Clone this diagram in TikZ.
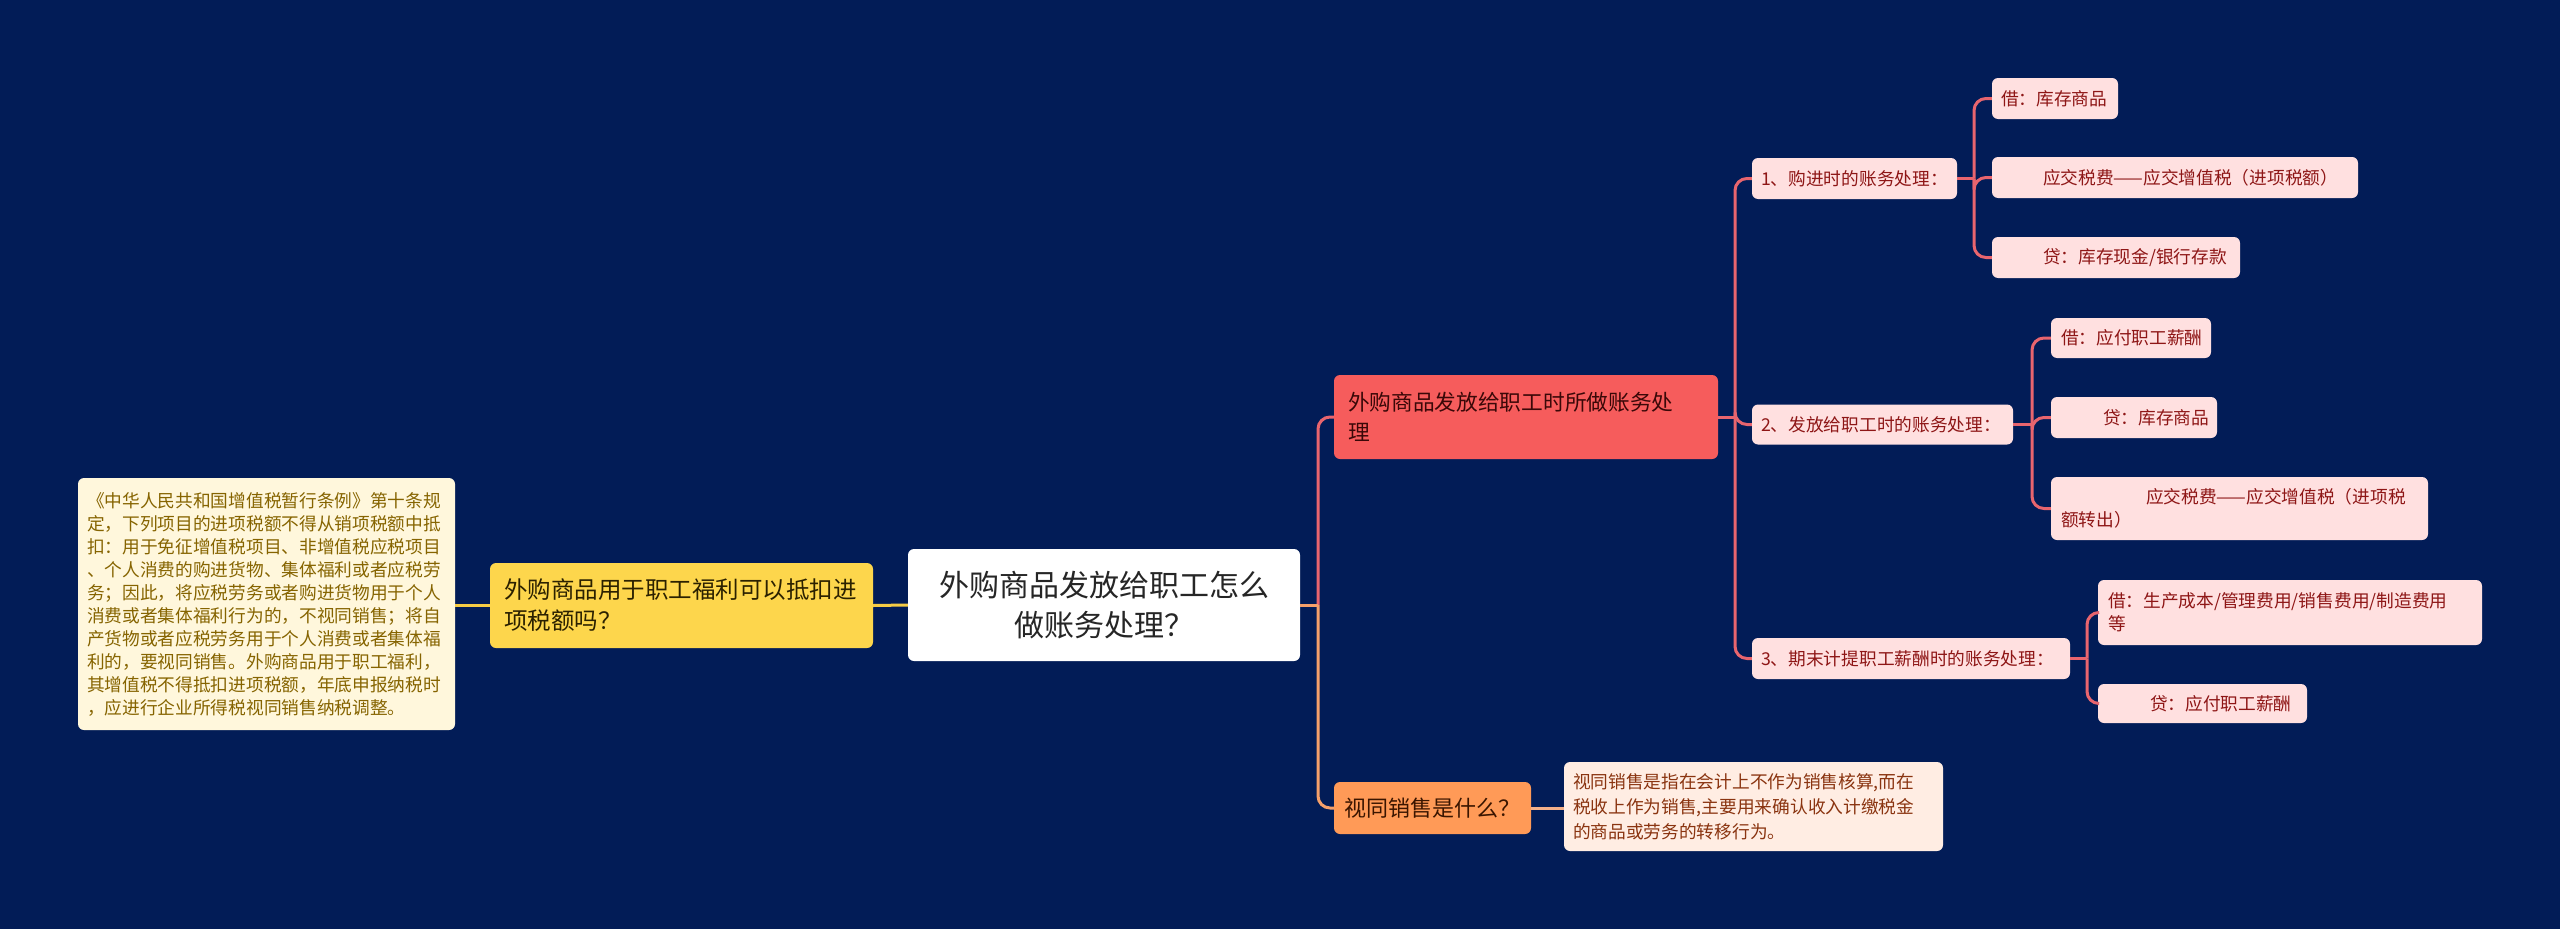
\documentclass[tikz,border=0pt]{standalone}
\usepackage{fontspec}
\setmainfont{Noto Sans CJK SC}
\definecolor{bg}{HTML}{021C57}
\definecolor{yelfill}{HTML}{FDD64C}
\definecolor{yeltext}{HTML}{2B2100}
\definecolor{n1fill}{HTML}{FFF7DC}
\definecolor{n1text}{HTML}{866400}
\definecolor{redfill}{HTML}{F65C5C}
\definecolor{redtext}{HTML}{3A0808}
\definecolor{orfill}{HTML}{FF9A57}
\definecolor{ortext}{HTML}{3A1500}
\definecolor{n3fill}{HTML}{FFEDE3}
\definecolor{n3text}{HTML}{8A3410}
\definecolor{leaffill}{HTML}{FFE0E0}
\definecolor{leaftext}{HTML}{8E1616}
\definecolor{cyel}{HTML}{F6CC45}
\definecolor{cred}{HTML}{E8656E}
\definecolor{cora}{HTML}{F5A06A}
\definecolor{cpea}{HTML}{F3B08A}
\begin{document}
\begin{tikzpicture}[x=1pt,y=-1pt,
  bx/.style={rounded corners=6pt, inner sep=0pt, align=left},
  rootbox/.style={bx, fill=white, text=black!85, align=center, font=\fontsize{30}{40}\selectfont},
  ybox/.style={bx, fill=yelfill, text=yeltext, font=\fontsize{23.5}{31}\selectfont},
  n1box/.style={bx, fill=n1fill, text=n1text, font=\fontsize{17.7}{23}\selectfont},
  rbox/.style={bx, fill=redfill, text=redtext, font=\fontsize{21.7}{30}\selectfont},
  obox/.style={bx, fill=orfill, text=ortext, font=\fontsize{22}{28}\selectfont},
  n3box/.style={bx, fill=n3fill, text=n3text, font=\fontsize{17.7}{25}\selectfont},
  lbox/.style={bx, fill=leaffill, text=leaftext, font=\fontsize{17.7}{23}\selectfont},
  conn/.style={line width=3pt},
  rc/.style={rounded corners=12pt}
]
\fill[bg] (0,0) rectangle (2560,929);
\useasboundingbox (0,0) rectangle (2560,929);

% nodes
\node[rootbox, minimum width=392pt, minimum height=112pt] (root) at (1104,605) {外购商品发放给职工怎么\\做账务处理？};
\node[ybox, minimum width=383pt, minimum height=85pt, text width=355pt] (q1) at (681.5,605.5) {外购商品用于职工福利可以抵扣进\\项税额吗？};
\node[n1box, minimum width=377pt, minimum height=252pt, text width=359pt] (n1) at (266.5,604) {《中华人民共和国增值税暂行条例》第十条规\\定，下列项目的进项税额不得从销项税额中抵\\扣：用于免征增值税项目、非增值税应税项目\\、个人消费的购进货物、集体福利或者应税劳\\务；因此，将应税劳务或者购进货物用于个人\\消费或者集体福利行为的，不视同销售；将自\\产货物或者应税劳务用于个人消费或者集体福\\利的，要视同销售。外购商品用于职工福利，\\其增值税不得抵扣进项税额，年底申报纳税时\\，应进行企业所得税视同销售纳税调整。};
\node[rbox, minimum width=384pt, minimum height=84pt, text width=356pt] (q2) at (1526,417) {外购商品发放给职工时所做账务处\\理};
\node[obox, minimum width=197pt, minimum height=52pt, text width=177pt] (q3) at (1432.5,808) {视同销售是什么？};
\node[n3box, minimum width=379pt, minimum height=89pt, text width=361pt] (n3) at (1753.5,806.5) {视同销售是指在会计上不作为销售核算,而在\\税收上作为销售,主要用来确认收入计缴税金\\的商品或劳务的转移行为。};

\node[lbox, minimum width=205pt, minimum height=41pt, text width=187pt] (s1) at (1854.5,178.5) {1、购进时的账务处理：};
\node[lbox, minimum width=261pt, minimum height=40pt, text width=243pt] (s2) at (1882.5,424.5) {2、发放给职工时的账务处理：};
\node[lbox, minimum width=318pt, minimum height=41pt, text width=300pt] (s3) at (1911,658.5) {3、期末计提职工薪酬时的账务处理：};

\node[lbox, minimum width=126pt, minimum height=41pt, text width=108pt] (l11) at (2055,98.5) {借：库存商品};
\node[lbox, minimum width=366pt, minimum height=41pt, text width=346pt] (l12) at (2175,177.5) {\hspace*{41pt}应交税费——应交增值税（进项税额）};
\node[lbox, minimum width=248pt, minimum height=41pt, text width=228pt] (l13) at (2116,257.5) {\hspace*{41pt}贷：库存现金/银行存款};

\node[lbox, minimum width=160pt, minimum height=40pt, text width=140pt] (l21) at (2131,338) {借：应付职工薪酬};
\node[lbox, minimum width=166pt, minimum height=41pt, text width=146pt] (l22) at (2134,417.5) {\hspace*{42pt}贷：库存商品};
\node[lbox, minimum width=377pt, minimum height=63pt, text width=357pt] (l23) at (2239.5,508.5) {\hspace*{85pt}应交税费——应交增值税（进项税\\额转出）};

\node[lbox, minimum width=384pt, minimum height=65pt, text width=364pt] (l31) at (2290,612.5) {借：生产成本/管理费用/销售费用/制造费用\\等};
\node[lbox, minimum width=209pt, minimum height=39pt, text width=189pt] (l32) at (2202.5,703.5) {\hspace*{42pt}贷：应付职工薪酬};

% junctions
\coordinate (jr) at (1318,605);
\coordinate (j2) at (1735,417);
\coordinate (j11) at (1974,178.5);
\coordinate (j21) at (2032,424.5);
\coordinate (j31) at (2087,658.5);

% connectors
\draw[conn, cyel] (q1.east) -- (root.west);
\draw[conn, cyel] (n1.east |- q1.west) -- (q1.west);
\draw[conn, cred, rc] (jr) |- (q2.west);
\draw[conn, cora, rc] (jr) |- (q3.west);
\draw[conn, cora] (root.east) -- (jr);
\draw[conn, cpea] (q3.east) -- (q3.east -| n3.west);

\draw[conn, cred] (q2.east) -- (j2);
\draw[conn, cred, rc] (j2) |- (s1.west);
\draw[conn, cred, rc] (j2) |- (s2.west);
\draw[conn, cred, rc] (j2) |- (s3.west);

\draw[conn, cred] (s1.east) -- (j11);
\draw[conn, cred, rc] (j11) |- (l11.west);
\draw[conn, cred, rc] (j11) |- (l12.west);
\draw[conn, cred, rc] (j11) |- (l13.west);

\draw[conn, cred] (s2.east) -- (j21);
\draw[conn, cred, rc] (j21) |- (l21.west);
\draw[conn, cred, rc] (j21) |- (l22.west);
\draw[conn, cred, rc] (j21) |- (l23.west);

\draw[conn, cred] (s3.east) -- (j31);
\draw[conn, cred, rc] (j31) |- (l31.west);
\draw[conn, cred, rc] (j31) |- (l32.west);
\end{tikzpicture}
\end{document}
